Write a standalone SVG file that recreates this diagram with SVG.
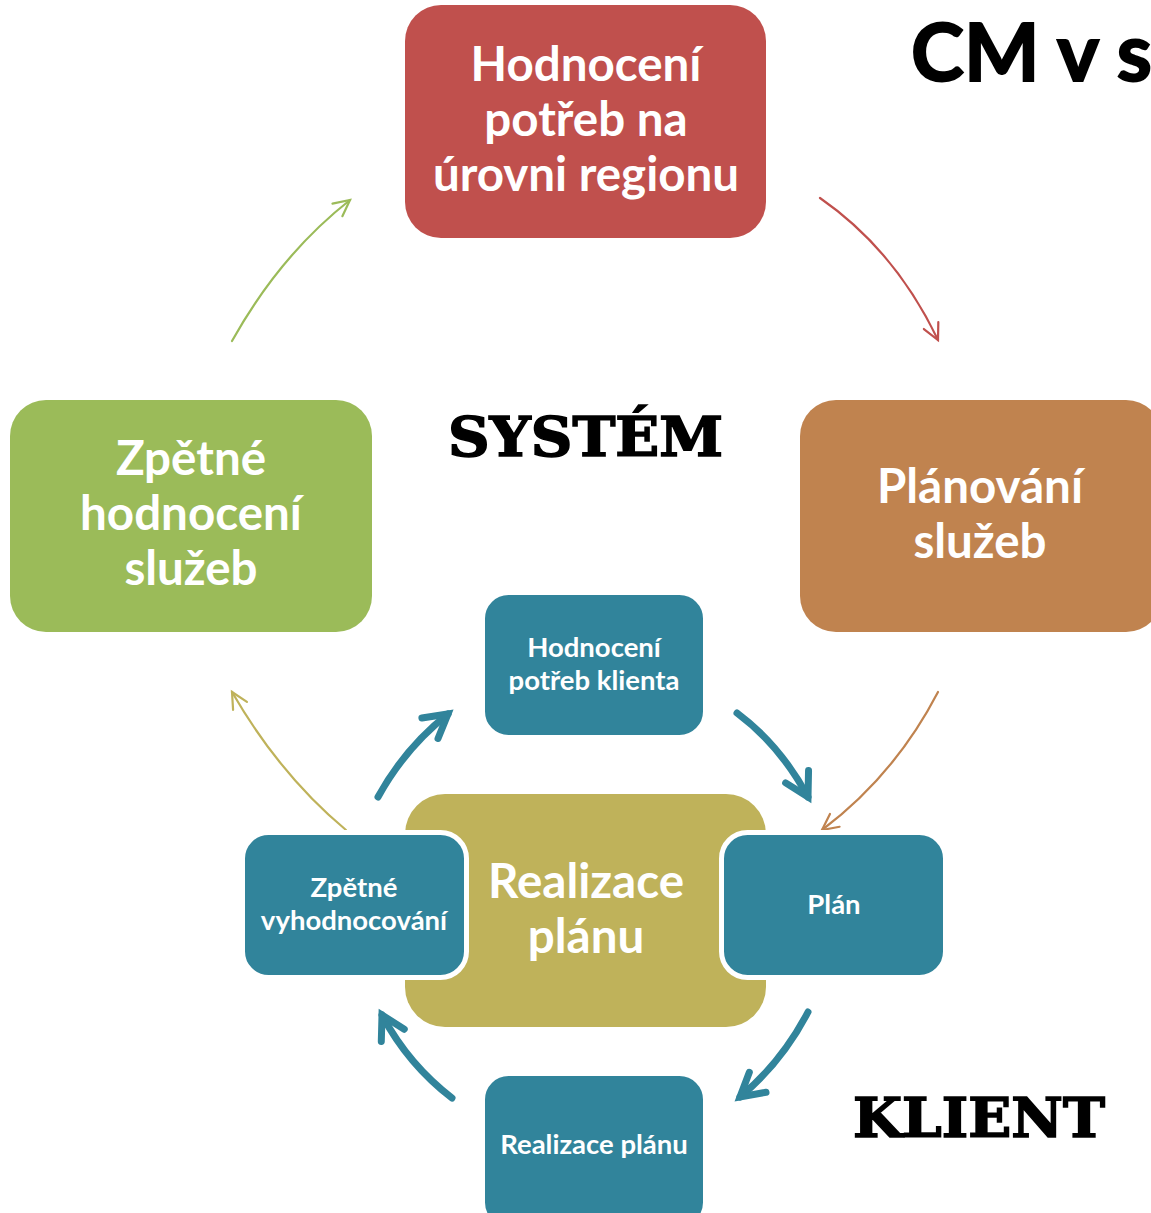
<svg xmlns="http://www.w3.org/2000/svg" width="1151" height="1213" viewBox="0 0 1151 1213">
<defs>
<style>
.big{font-family:Lato,"Open Sans","DejaVu Sans",sans-serif;font-weight:bold;font-size:47.5px;fill:#fff;text-anchor:middle}
.small{font-family:Lato,"Open Sans","DejaVu Sans",sans-serif;font-weight:bold;font-size:27.5px;fill:#fff;text-anchor:middle}
.serif{font-family:"DejaVu Serif","Liberation Serif",serif;font-weight:bold;font-size:54px;fill:#000;stroke:#000;stroke-width:1.6}
.teal{fill:#31849B;stroke:#fff;stroke-width:5}
.thin{fill:none;stroke-width:2.2;stroke-linecap:round}
.thick{fill:none;stroke:#31849B;stroke-width:7;stroke-linecap:round}
</style>
<marker id="mRed" markerUnits="userSpaceOnUse" viewBox="0 0 20 20" markerWidth="20" markerHeight="20" refX="18" refY="10" orient="auto" overflow="visible"><path d="M2,2 L18,10 L2,18" fill="none" stroke="#C0504D" stroke-width="2.2" stroke-linecap="round"/></marker>
<marker id="mGreen" markerUnits="userSpaceOnUse" viewBox="0 0 20 20" markerWidth="20" markerHeight="20" refX="18" refY="10" orient="auto" overflow="visible"><path d="M2,2 L18,10 L2,18" fill="none" stroke="#9BBB59" stroke-width="2.2" stroke-linecap="round"/></marker>
<marker id="mOrange" markerUnits="userSpaceOnUse" viewBox="0 0 20 20" markerWidth="20" markerHeight="20" refX="18" refY="10" orient="auto" overflow="visible"><path d="M2,2 L18,10 L2,18" fill="none" stroke="#C0834F" stroke-width="2.2" stroke-linecap="round"/></marker>
<marker id="mOlive" markerUnits="userSpaceOnUse" viewBox="0 0 20 20" markerWidth="20" markerHeight="20" refX="18" refY="10" orient="auto" overflow="visible"><path d="M2,2 L18,10 L2,18" fill="none" stroke="#BFB25A" stroke-width="2.2" stroke-linecap="round"/></marker>
<marker id="mTeal" markerUnits="userSpaceOnUse" viewBox="0 0 32 32" markerWidth="32" markerHeight="32" refX="28" refY="16" orient="auto" overflow="visible"><path d="M5,3 L28,16 L5,29" fill="none" stroke="#31849B" stroke-width="7" stroke-linecap="round" stroke-linejoin="miter"/></marker>
</defs>

<g id="title"><text x="911" y="81" font-family="Lato,'Open Sans',sans-serif" font-weight="bold" font-size="80" fill="#000" stroke="#000" stroke-width="2">CM v s</text></g>

<g id="connectors">
<path class="thin" stroke="#C0504D" d="M820,198 Q895,250 938,340" marker-end="url(#mRed)"/>
<path class="thin" stroke="#C0834F" d="M938,692 Q895,775 822,830" marker-end="url(#mOrange)"/>
<path class="thin" stroke="#BFB25A" d="M346,830 Q280,775 232,692" marker-end="url(#mOlive)"/>
<path class="thin" stroke="#9BBB59" d="M232,341 Q280,255 350,200" marker-end="url(#mGreen)"/>
<path class="thick" d="M378,797 Q405,748 448,714" marker-end="url(#mTeal)"/>
<path class="thick" d="M737,713 Q780,745 808,797" marker-end="url(#mTeal)"/>
<path class="thick" d="M808,1012 Q782,1062 740,1097" marker-end="url(#mTeal)"/>
<path class="thick" d="M452,1098 Q408,1064 382,1015" marker-end="url(#mTeal)"/>
</g>

<g id="hodnoceni-regionu">
<rect x="405" y="5" width="361" height="233" rx="36" fill="#C0504D"/>
<text class="big" x="586" y="81">Hodnocení</text>
<text class="big" x="586" y="136">potřeb na</text>
<text class="big" x="586" y="191">úrovni regionu</text>
</g>

<g id="planovani-sluzeb">
<rect x="800" y="400" width="362" height="232" rx="36" fill="#C0834F"/>
<text class="big" x="980" y="503">Plánování</text>
<text class="big" x="980" y="558">služeb</text>
</g>

<g id="zpetne-hodnoceni">
<rect x="10" y="400" width="362" height="232" rx="36" fill="#9BBB59"/>
<text class="big" x="191" y="475">Zpětné</text>
<text class="big" x="191" y="530">hodnocení</text>
<text class="big" x="191" y="585">služeb</text>
</g>

<g id="system-label"><text class="serif" x="448" y="456" textLength="275" lengthAdjust="spacingAndGlyphs">SYSTÉM</text></g>
<g id="klient-label"><text class="serif" x="853" y="1137" textLength="252" lengthAdjust="spacingAndGlyphs">KLIENT</text></g>

<g id="realizace-center">
<rect x="405" y="794" width="361" height="233" rx="40" fill="#BFB25A"/>
<text class="big" x="586" y="898">Realizace</text>
<text class="big" x="586" y="953">plánu</text>
</g>

<g id="hodnoceni-klienta">
<rect class="teal" x="482.5" y="592.5" width="223" height="145" rx="26"/>
<text class="small" x="594" y="657">Hodnocení</text>
<text class="small" x="594" y="690">potřeb klienta</text>
</g>

<g id="plan">
<rect class="teal" x="721.5" y="832.5" width="224" height="145" rx="26"/>
<text class="small" x="834" y="914">Plán</text>
</g>

<g id="realizace-planu">
<rect class="teal" x="482.5" y="1073.5" width="223" height="155" rx="26"/>
<text class="small" x="594" y="1154">Realizace plánu</text>
</g>

<g id="zpetne-vyhodnocovani">
<rect class="teal" x="242.5" y="832.5" width="224" height="145" rx="26"/>
<text class="small" x="354" y="897">Zpětné</text>
<text class="small" x="354" y="930">vyhodnocování</text>
</g>
</svg>
